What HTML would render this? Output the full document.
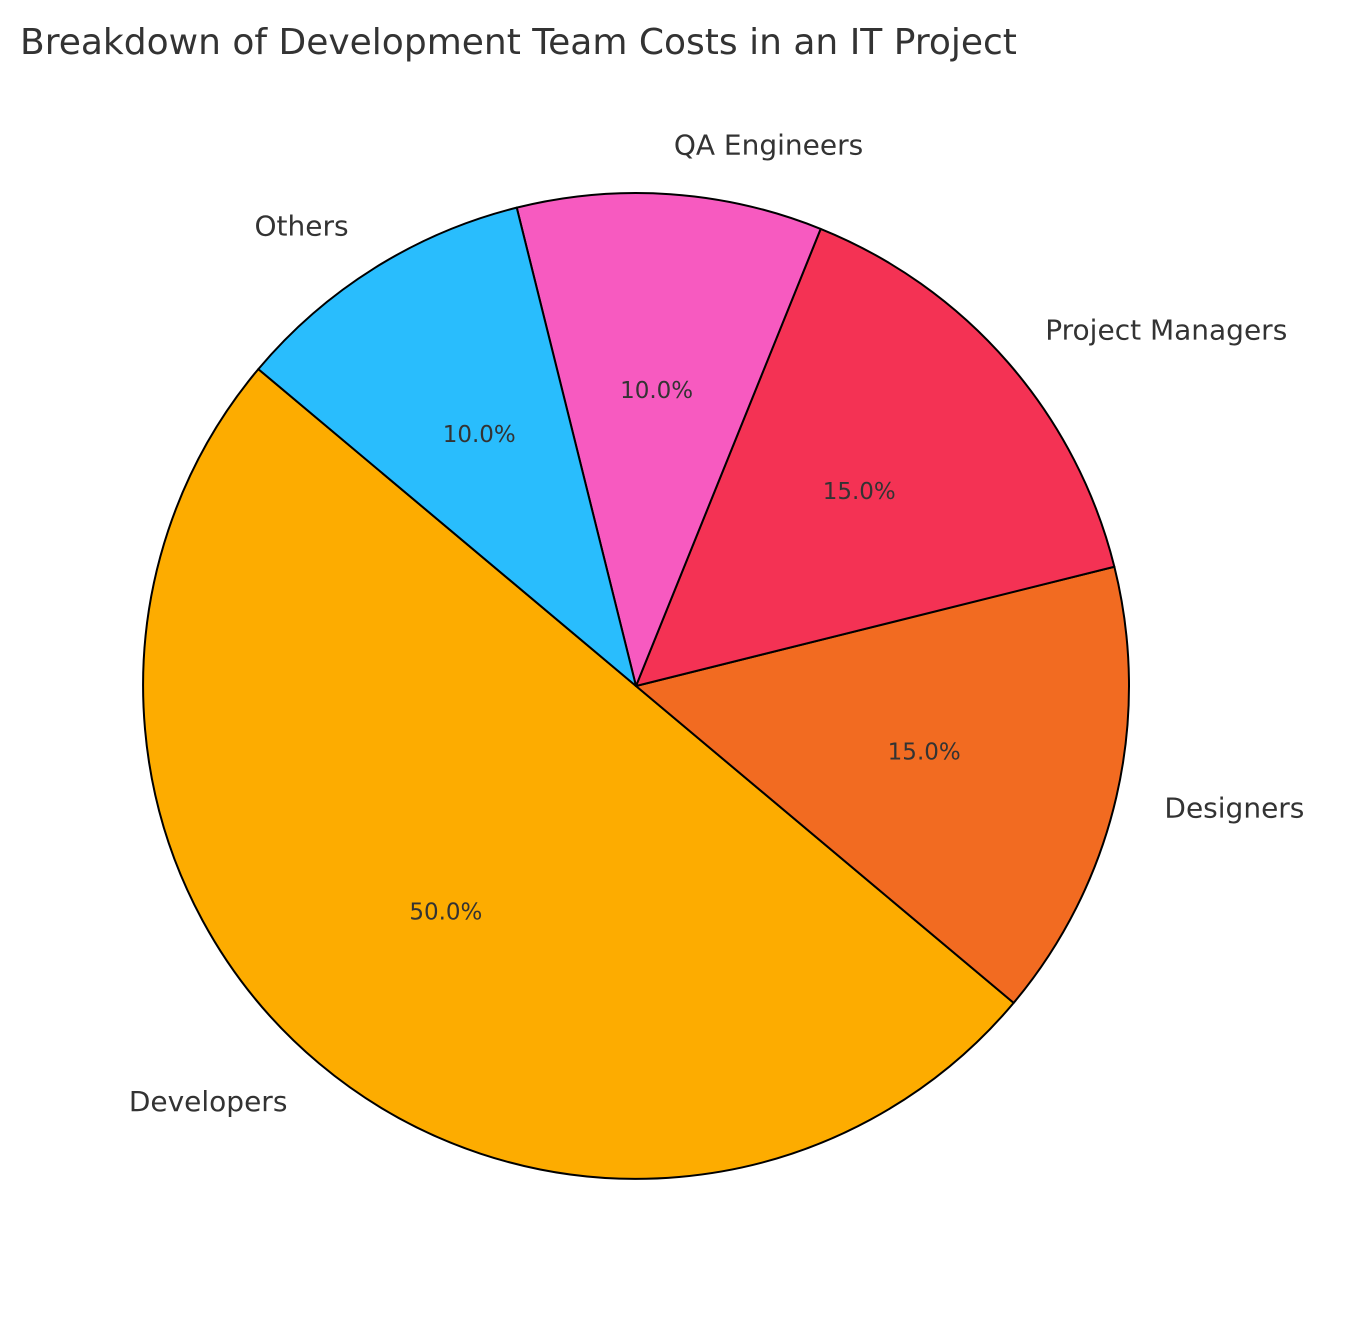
<!DOCTYPE html>
<html>
<head>
<meta charset="utf-8">
<style>
  html,body{margin:0;padding:0;background:#fff;}
  svg{display:block;font-family:"DejaVu Sans","Liberation Sans",sans-serif;}
</style>
</head>
<body>
<svg id="chart" width="1353" height="1322" viewBox="0 0 1353 1322">
  <text x="20" y="54" font-size="36" fill="#333">Breakdown of Development Team Costs in an IT Project</text>
  <g id="slices"></g>
  <g id="labels"></g>
</svg>
<script>
const categories = ["Developers", "Designers", "Project Managers", "QA Engineers", "Others"];
const values = [50, 15, 15, 10, 10];
const colors = ["#FDAC00", "#F26B21", "#F43254", "#F75AC0", "#29BDFD"];

const cx = 636, cy = 686, r = 493, startAngle = 140;
const NS = "http://www.w3.org/2000/svg";
const gS = document.getElementById("slices");
const gL = document.getElementById("labels");
const total = values.reduce((a, b) => a + b, 0);
function pt(deg, rad) {
  const a = deg * Math.PI / 180;
  return [cx + rad * Math.cos(a), cy - rad * Math.sin(a)];
}
let ang = startAngle;
values.forEach((v, i) => {
  const sweep = v / total * 360;
  const a0 = ang, a1 = ang + sweep;
  const p0 = pt(a0, r), p1 = pt(a1, r);
  const large = sweep > 180 ? 1 : 0;
  const path = document.createElementNS(NS, "path");
  path.setAttribute("d", `M${cx},${cy} L${p0[0]},${p0[1]} A${r},${r} 0 ${large} 0 ${p1[0]},${p1[1]} Z`);
  path.setAttribute("fill", colors[i]);
  path.setAttribute("stroke", "#000");
  path.setAttribute("stroke-width", "2");
  path.setAttribute("stroke-linejoin", "round");
  
  
  gS.appendChild(path);

  const mid = (a0 + a1) / 2;
  const lp = pt(mid, r * 1.1);
  const t = document.createElementNS(NS, "text");
  t.setAttribute("x", lp[0]);
  t.setAttribute("y", lp[1]);
  t.setAttribute("font-size", "28");
  t.setAttribute("fill", "#333");
  t.setAttribute("dominant-baseline", "central");
  t.setAttribute("text-anchor", Math.cos(mid * Math.PI / 180) >= 0 ? "start" : "end");
  t.textContent = categories[i];
  
  
  gL.appendChild(t);

  const pp = pt(mid, r * 0.6);
  const pc = document.createElementNS(NS, "text");
  pc.setAttribute("x", pp[0]);
  pc.setAttribute("y", pp[1]);
  pc.setAttribute("font-size", "23");
  pc.setAttribute("fill", "#333");
  pc.setAttribute("dominant-baseline", "central");
  pc.setAttribute("text-anchor", "middle");
  pc.textContent = (v / total * 100).toFixed(1) + "%";
  
  
  gL.appendChild(pc);

  ang = a1;
});
</script>
</body>
</html>
